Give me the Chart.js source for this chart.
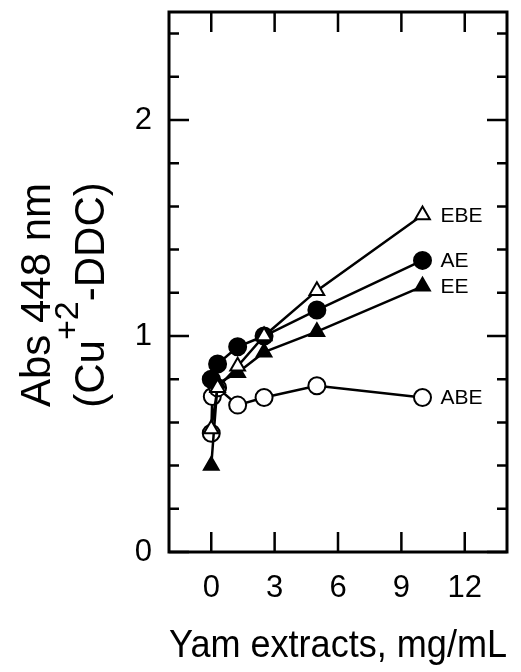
<!DOCTYPE html>
<html>
<head>
<meta charset="utf-8">
<script src="https://cdn.jsdelivr.net/npm/chart.js@4/dist/chart.umd.min.js"></script>
<style>
  html, body { margin: 0; padding: 0; background: #fff; }
  #wrap { width: 521px; height: 672px; }
</style>
</head>
<body>
<div id="wrap"><canvas id="c" width="521" height="672"></canvas></div>
<script>
// Yam extract concentration (mg/mL)
const doses    = [0, 0.3, 1.25, 2.5, 5, 10];
const abeDoses = [0, 0.05, 0.3, 1.25, 2.5, 5, 10];

// Absorbance at 448 nm for each extract
const seriesNames = ['EBE', 'AE', 'EE', 'ABE'];
const ebeValues = [0.57, 0.76, 0.86, 1.00, 1.21, 1.56];
const aeValues  = [0.80, 0.87, 0.95, 1.00, 1.12, 1.35];
const eeValues  = [0.40, 0.78, 0.83, 0.925, 1.02, 1.23];
const abeValues = [0.55, 0.72, 0.76, 0.68, 0.715, 0.77, 0.715];

// Axis ticks
const xTickValues = [0, 3, 6, 9, 12];
const yTickValues = [0, 0.2, 0.4, 0.6, 0.8, 1, 1.2, 1.4, 1.6, 1.8, 2, 2.2, 2.4];
const yLabelValues = [0, 1, 2];

const FONT = '"Liberation Sans", Arial, Helvetica, sans-serif';

function pts(xs, values) {
  return xs.map((d, i) => ({ x: d, y: values[i] }));
}

const markerStyles = [
  { style: 'triangle', fill: '#fff' },
  { style: 'circle', fill: '#000' },
  { style: 'triangle', fill: '#000' },
  { style: 'circle', fill: '#fff' }
];
const allValues = [ebeValues, aeValues, eeValues, abeValues];
const allDoses = [doses, doses, doses, abeDoses];

const datasets = seriesNames.map((name, i) => ({
  label: name,
  data: pts(allDoses[i], allValues[i]),
  borderColor: '#000',
  borderWidth: 2.5,
  pointStyle: markerStyles[i].style,
  pointBackgroundColor: markerStyles[i].fill,
  pointBorderColor: '#000',
  pointBorderWidth: 2,
  pointRadius: 8.5,
  showLine: true,
  fill: false,
  tension: 0,
  order: i
}));

// Frame with inward ticks on all four sides
const framePlugin = {
  id: 'frame',
  beforeDatasetsDraw(chart) {
    const { ctx, chartArea: a, scales } = chart;
    ctx.save();
    ctx.strokeStyle = '#000';
    ctx.lineWidth = 3;
    ctx.strokeRect(a.left, a.top, a.right - a.left, a.bottom - a.top);
    ctx.lineWidth = 2.5;
    ctx.beginPath();
    xTickValues.forEach(v => {
      const px = scales.x.getPixelForValue(v);
      ctx.moveTo(px, a.bottom); ctx.lineTo(px, a.bottom - 20);
      ctx.moveTo(px, a.top); ctx.lineTo(px, a.top + 20);
    });
    yTickValues.forEach(v => {
      const py = scales.y.getPixelForValue(v);
      const len = yLabelValues.includes(v) ? 20 : 10;
      ctx.moveTo(a.left, py); ctx.lineTo(a.left + len, py);
      ctx.moveTo(a.right, py); ctx.lineTo(a.right - len, py);
    });
    ctx.stroke();
    ctx.restore();
  }
};

// Series names beside the last point of each line, and the y-axis title
const textPlugin = {
  id: 'texts',
  afterDraw(chart) {
    const { ctx } = chart;
    ctx.save();
    ctx.fillStyle = '#000';
    ctx.font = '21px ' + FONT;
    ctx.textAlign = 'left';
    ctx.textBaseline = 'middle';
    chart.data.datasets.forEach((ds, i) => {
      const meta = chart.getDatasetMeta(i);
      const last = meta.data[meta.data.length - 1];
      ctx.fillText(ds.label, last.x + 18, last.y + 1);
    });

    // y-axis title, two rotated lines with a superscript charge
    ctx.save();
    ctx.translate(38, 295);
    ctx.rotate(-Math.PI / 2);
    ctx.textAlign = 'center';
    ctx.textBaseline = 'middle';
    ctx.font = '42px ' + FONT;
    ctx.fillText('Abs 448 nm', 0, 0);

    const big = '42px ' + FONT;
    const small = '34px ' + FONT;
    const parts = [
      { t: '(Cu', f: big, dy: 0 },
      { t: '+2', f: small, dy: -26 },
      { t: '-DDC)', f: big, dy: 0 }
    ];
    let total = 0;
    parts.forEach(p => { ctx.font = p.f; p.w = ctx.measureText(p.t).width; total += p.w; });
    let x = -total / 2;
    ctx.textAlign = 'left';
    ctx.textBaseline = 'alphabetic';
    parts.forEach(p => {
      ctx.font = p.f;
      ctx.fillText(p.t, x, 66 + p.dy);
      x += p.w;
    });
    ctx.restore();
    ctx.restore();
  }
};

function noPadding(scale) {
  scale.paddingLeft = 0;
  scale.paddingRight = 0;
  scale.paddingTop = 0;
  scale.paddingBottom = 0;
}

new Chart(document.getElementById('c'), {
  type: 'scatter',
  data: { datasets },
  options: {
    responsive: false,
    animation: false,
    devicePixelRatio: 1,
    layout: { padding: { top: 12, right: 14, left: 0, bottom: 0 } },
    plugins: { legend: { display: false }, tooltip: { enabled: false } },
    scales: {
      x: {
        type: 'linear',
        min: -2,
        max: 14,
        grid: { display: false, drawTicks: false },
        border: { display: false },
        afterBuildTicks(scale) { scale.ticks = xTickValues.map(v => ({ value: v })); },
        afterFit(scale) { scale.height = 120; noPadding(scale); },
        ticks: {
          color: '#000',
          font: { family: FONT, size: 31 },
          padding: 18,
          maxRotation: 0,
          callback: v => String(v)
        },
        title: {
          display: true,
          text: 'Yam extracts, mg/mL',
          color: '#000',
          font: { family: FONT, size: 38 },
          padding: { top: 0, bottom: 3 }
        }
      },
      y: {
        type: 'linear',
        min: 0,
        max: 2.5,
        grid: { display: false, drawTicks: false },
        border: { display: false },
        afterBuildTicks(scale) { scale.ticks = yTickValues.map(v => ({ value: v })); },
        afterFit(scale) { scale.width = 169; noPadding(scale); },
        ticks: {
          color: '#000',
          font: { family: FONT, size: 31 },
          padding: 17,
          callback: v => (yLabelValues.includes(Math.round(v * 10) / 10) ? String(Math.round(v)) : '')
        }
      }
    }
  },
  plugins: [framePlugin, textPlugin]
});
</script>
</body>
</html>
